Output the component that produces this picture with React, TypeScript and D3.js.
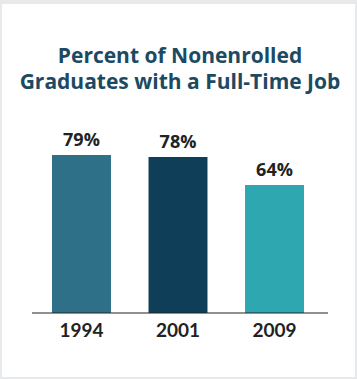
import React from "react";
import * as d3 from "d3";

const categories = ["1994", "2001", "2009"];
const values = [79, 78, 64];
const valueLabels = ["79%", "78%", "64%"];
const barColors = ["#2f7089", "#0f3e59", "#2ea7b1"];
const titleLines = ["Percent of Nonenrolled", "Graduates with a Full-Time Job"];

const W = 357;
const H = 379;

export default function App() {
  const x = d3.scaleBand<string>().domain(categories).range([52, 304]).paddingInner(0.389).paddingOuter(0);
  const y = d3.scaleLinear().domain([0, 100]).range([313, 113]);
  return (
    <svg width={W} height={H} style={{ position: "absolute", left: 0, top: 0, display: "block" }}>
      <rect x={0} y={0} width={W} height={H} fill="#e8e9ea" />
      <rect x={2} y={4} width={W - 4} height={H - 6} fill="#ffffff" />
      {titleLines.map((t, i) => (
        <text
          key={t}
          x={180}
          y={63 + i * 25.5}
          textAnchor="middle"
          fontFamily="'Open Sans', sans-serif"
          fontWeight={700}
          fontSize={21}
          fill="#1c4a62"
        >
          {t}
        </text>
      ))}
      {categories.map((c, i) => (
        <g key={c}>
          <rect x={x(c)} y={y(values[i])} width={x.bandwidth()} height={y(0) - y(values[i])} fill={barColors[i]} />
          <text
            x={(x(c) as number) + x.bandwidth() / 2}
            y={y(values[i]) - 9}
            textAnchor="middle"
            fontFamily="'Open Sans', sans-serif"
            fontWeight={700}
            fontSize={18}
            fill="#222"
          >
            {valueLabels[i]}
          </text>
          <text
            x={(x(c) as number) + x.bandwidth() / 2}
            y={337}
            textAnchor="middle"
            fontFamily="Lato, sans-serif"
            fontWeight={700}
            fontSize={19}
            fill="#222"
          >
            {c}
          </text>
        </g>
      ))}
      <line x1={32} x2={328} y1={y(0)} y2={y(0)} stroke="#222" strokeWidth={1.2} />
    </svg>
  );
}
